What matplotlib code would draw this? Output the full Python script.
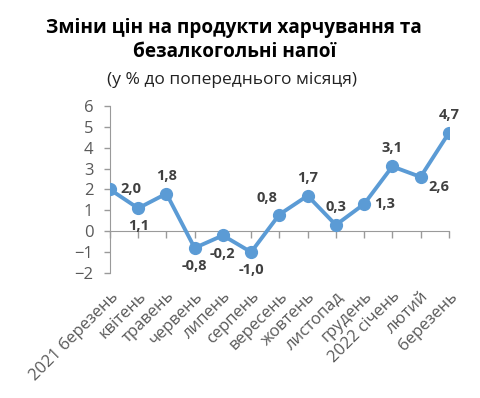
import matplotlib

matplotlib.use("Agg")
import matplotlib.pyplot as plt

plt.rcParams["font.family"] = ["Open Sans", "DejaVu Sans"]

MONTHS = [
    "2021 березень", "квітень", "травень", "червень", "липень", "серпень",
    "вересень", "жовтень", "листопад", "грудень", "2022 січень", "лютий", "березень",
]
CHANGE = [2.0, 1.1, 1.8, -0.8, -0.2, -1.0, 0.8, 1.7, 0.3, 1.3, 3.1, 2.6, 4.7]
# where each value label sits relative to its point
LABEL_POS = ["right", "below", "above", "below", "below", "below",
             "aboveleft", "above", "above", "right", "above", "belowright", "above"]

LINE_COLOR = "#5b9bd5"
TEXT_COLOR = "#404040"
AXIS_COLOR = "#9a9a9a"

OFFSETS = {
    "right": ((15, 0), "center", "center"),
    "below": ((0, -8), "center", "top"),
    "above": ((0, 8), "center", "bottom"),
    "aboveleft": ((-9, 7), "center", "bottom"),
    "belowright": ((13, -2), "center", "top"),
}

fig = plt.figure(figsize=(4.8, 3.98), dpi=100)
ax = fig.add_axes([0.229, 0.314, 0.706, 0.42])

x = list(range(len(MONTHS)))
ax.plot(x, CHANGE, color=LINE_COLOR, linewidth=2.8, marker="o", markersize=8.5, zorder=3)

for xi, val, pos in zip(x, CHANGE, LABEL_POS):
    off, ha, va = OFFSETS[pos]
    ax.annotate(f"{val:.1f}".replace(".", ","), (xi, val), xytext=off, textcoords="offset points",
                ha=ha, va=va, fontsize=10.5, fontweight="bold", color=TEXT_COLOR)

ax.set_xlim(0, len(MONTHS) - 1)
ax.set_ylim(-2, 6)
ax.set_yticks(range(-2, 7))
ax.tick_params(axis="y", colors=AXIS_COLOR, labelcolor="#595959", labelsize=12, length=4,
               width=1, pad=8)

for side in ["top", "right"]:
    ax.spines[side].set_visible(False)
ax.spines["left"].set_color(AXIS_COLOR)
ax.spines["bottom"].set_position(("data", 0))
ax.spines["bottom"].set_color(AXIS_COLOR)
ax.set_xticks(x)
ax.tick_params(axis="x", colors=AXIS_COLOR, length=5, width=1, labelbottom=False)

# category labels sit below the plot, Excel "low" position
sec = ax.secondary_xaxis("bottom")
sec.set_xticks(x)
sec.set_xticklabels(MONTHS, rotation=45, ha="right", rotation_mode="anchor",
                    fontsize=12, color="#595959")
sec.tick_params(length=0, pad=11)
sec.spines["bottom"].set_visible(False)

fig.text(0.488, 0.93, "Зміни цін на продукти харчування та", ha="center", va="center",
         fontsize=13.7, fontweight="bold", color="black")
fig.text(0.488, 0.869, "безалкогольні напої", ha="center", va="center",
         fontsize=13.7, fontweight="bold", color="black")
fig.text(0.483, 0.80, "(у % до попереднього місяця)", ha="center", va="center",
         fontsize=12.5, color="#222222")

fig.savefig("out.png", dpi=100)
